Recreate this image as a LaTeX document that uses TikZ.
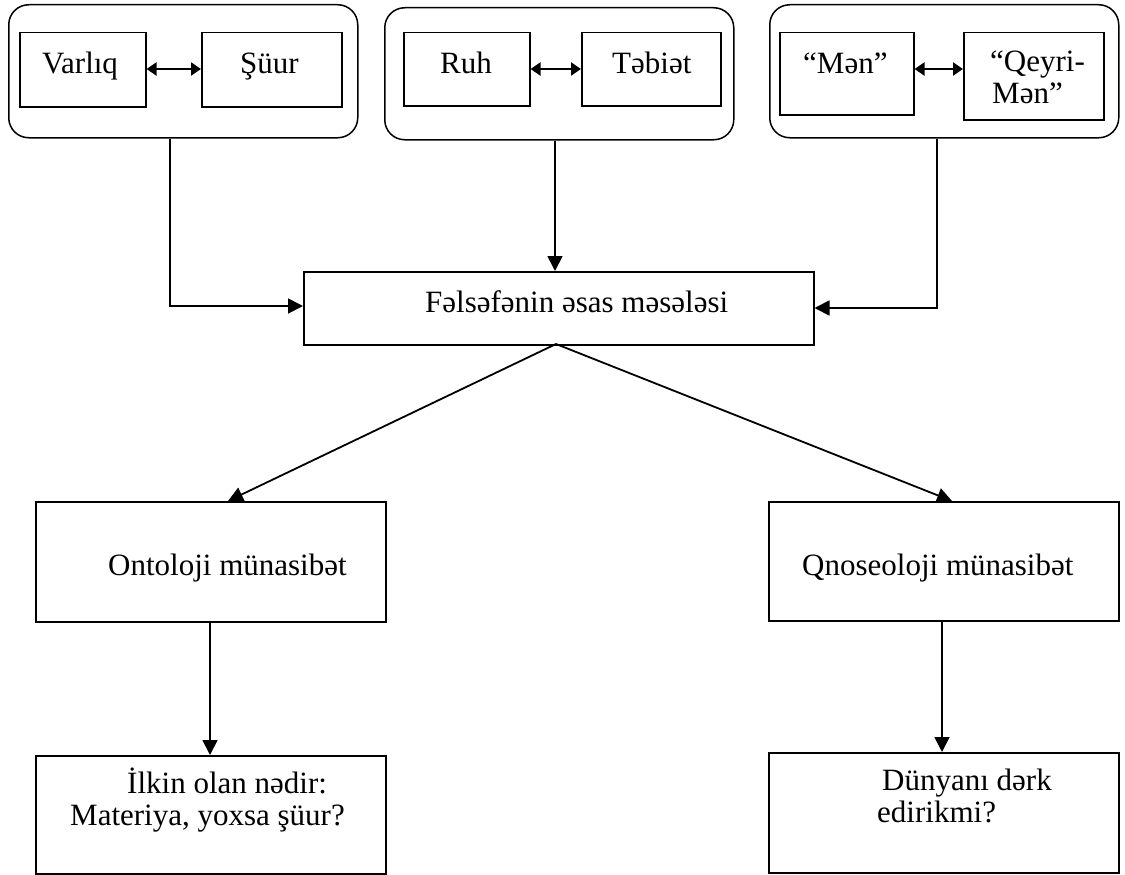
\documentclass[tikz,border=0pt]{standalone}
\usepackage{fontspec}
\setmainfont{Liberation Serif}
\usetikzlibrary{arrows.meta}
\begin{document}
\begin{tikzpicture}[x=1pt,y=-1pt,
  box/.style={draw, line width=1.5pt, inner sep=0pt, anchor=north west},
  grp/.style={draw, line width=1.5pt, inner sep=0pt, anchor=north west, rounded corners=20pt},
  txt/.style={anchor=base west, inner sep=0pt, font=\fontsize{31}{28}\selectfont},
  conn/.style={line width=1.8pt, -{Triangle[length=15pt,width=15pt]}},
  dbl/.style={line width=2.2pt, {Triangle[length=10pt,width=13pt]}-{Triangle[length=10pt,width=13pt]}}]
\useasboundingbox (0,0) rectangle (1125,875);
% top groups
\node[grp, minimum width=349pt, minimum height=133pt] (g1) at (8,4) {};
\node[grp, minimum width=349pt, minimum height=132pt] (g2) at (384,7) {};
\node[grp, minimum width=349pt, minimum height=133pt] (g3) at (769,4) {};
\node[box, minimum width=126pt, minimum height=74pt] (varliq) at (19,32) {};
\node[box, minimum width=140pt, minimum height=74pt] (shuur) at (201,32) {};
\node[box, minimum width=126pt, minimum height=73pt] (ruh) at (403,32) {};
\node[box, minimum width=139pt, minimum height=73pt] (tebiet) at (581,32) {};
\node[box, minimum width=134pt, minimum height=82pt] (men) at (779,32) {};
\node[box, minimum width=140pt, minimum height=87pt] (qeyri) at (963,32) {};
\node[txt] (t1) at (42,74) {Varlıq};
\node[txt] (t2) at (240,74) {Şüur};
\node[txt] (t3) at (440,74) {Ruh};
\node[txt] (t4) at (612,74) {Təbiət};
\node[txt] (t5) at (803,74) {“Mən”};
\node[txt] (t6) at (990,72) {“Qeyri-};
\node[txt] (t7) at (992,103) {Mən”};
\draw[dbl] (varliq.east |- 0,69) -- (shuur.west |- 0,69);
\draw[dbl] (ruh.east |- 0,69) -- (tebiet.west |- 0,69);
\draw[dbl] (men.east |- 0,69) -- (qeyri.west |- 0,69);
% central
\node[box, minimum width=510pt, minimum height=73pt] (center) at (303,271) {};
\node[txt] (tc) at (425,312) {Fəlsəfənin əsas məsələsi};
\coordinate (c1) at (170,306);
\coordinate (c3) at (937,308);
\draw[conn] (g1.south -| c1) -- (c1) -- (center.west |- c1);
\draw[conn] (g2.south -| 555,0) -- (center.north -| 555,0);
\draw[conn] (g3.south -| c3) -- (c3) -- (center.east |- c3);
% second level
\node[box, minimum width=350pt, minimum height=120pt] (onto) at (35,501) {};
\node[box, minimum width=350pt, minimum height=119pt] (qnos) at (768,501) {};
\node[txt] (to) at (108,575) {Ontoloji münasibət};
\node[txt] (tq) at (802,575) {Qnoseoloji münasibət};
\coordinate (cb) at (556,344);
\draw[conn] (cb) -- (onto.north -| 228,0);
\draw[conn] (cb) -- (qnos.north -| 952,0);
% third level
\node[box, minimum width=350pt, minimum height=118pt] (ilkin) at (35,755) {};
\node[box, minimum width=350pt, minimum height=120pt] (dunya) at (768,752) {};
\node[txt] (ti1) at (127,793) {İlkin olan nədir:};
\node[txt] (ti2) at (70,825) {Materiya, yoxsa şüur?};
\node[txt] (td1) at (882,790) {Dünyanı dərk};
\node[txt] (td2) at (877,822) {edirikmi?};
\draw[conn] (onto.south -| 210,0) -- (ilkin.north -| 210,0);
\draw[conn] (qnos.south -| 942,0) -- (dunya.north -| 942,0);
\end{tikzpicture}
\end{document}
